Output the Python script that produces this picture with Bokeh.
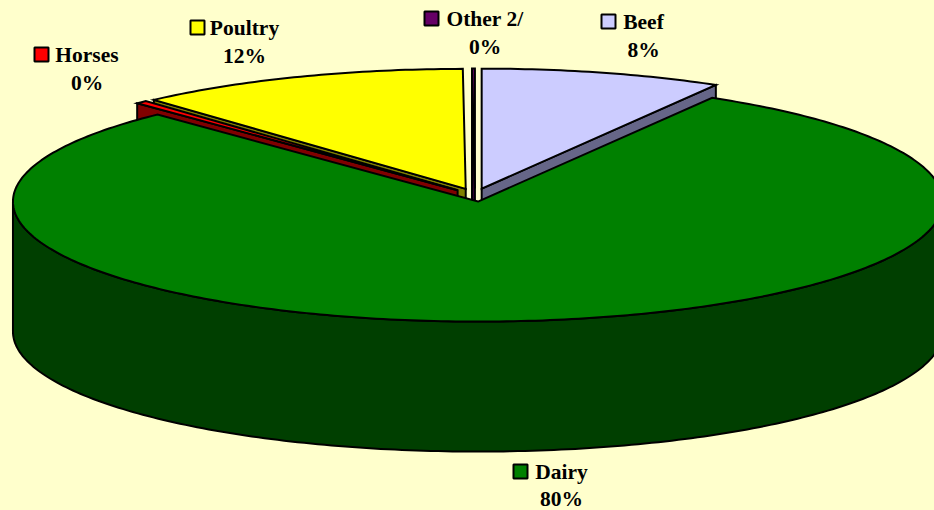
import numpy as np
from bokeh.plotting import figure
from bokeh.models import Range1d, ColumnDataSource
from bokeh.core.properties import value
from bokeh.embed import file_html
from bokeh.resources import INLINE

# ---- data ----
categories = ["Beef", "Dairy", "Horses", "Poultry", "Other 2/"]
shares = [8.4, 79.5, 0.4, 11.6, 0.1]
top_colors = ["#CCCCFF", "#008000", "#FF0000", "#FFFF00", "#660066"]
side_colors = ["#666688", "#003F00", "#800000", "#808000", "#330033"]

# ---- layout (screen-pixel coordinates) ----
CX, CY = 474.5, 194.5
RX, RY = 465.0, 120.0
DEPTH = 130.0
EXPLODE = 0.055
BG = "#FFFFCC"
W, H = 934, 510

# label layout: key-square centre, name-text centre x, row y, row gap
label_key_x = [608, 520, 41, 197, 431]
label_name_x = [643, 561, 86.5, 244, 484.5]
label_row_y = [21, 471, 54, 27, 18]
label_gap = [28, 27, 28, 28, 28]

total = float(sum(shares))
bounds = np.concatenate([[0.0], np.cumsum(shares)]) / total * 2 * np.pi


def pt(t, cx, cy, dz=0.0):
    return cx + RX * np.sin(t), cy - RY * np.cos(t) + dz


def arc(t0, t1, cx, cy, dz=0.0):
    n = max(2, int(abs(t1 - t0) / (2 * np.pi) * 400) + 2)
    ts = np.linspace(t0, t1, n)
    return list(cx + RX * np.sin(ts)), list(cy - RY * np.cos(ts) + dz)


polys_x, polys_y, fills = [], [], []

order = sorted(range(len(shares)),
               key=lambda i: -np.cos((bounds[i] + bounds[i + 1]) / 2))

for i in order:
    a0, a1 = bounds[i], bounds[i + 1]
    mid = (a0 + a1) / 2
    cx = CX + RX * np.sin(mid) * EXPLODE
    cy = CY - RY * np.cos(mid) * EXPLODE
    # radial walls
    for a, vis in ((a0, np.sin(a0) < 0), (a1, np.sin(a1) > 0)):
        if vis:
            ox, oy = pt(a, cx, cy)
            polys_x.append([cx, ox, ox, cx])
            polys_y.append([cy, oy, oy + DEPTH, cy + DEPTH])
            fills.append(side_colors[i])
    # outer curved wall (front half only)
    f0, f1 = max(a0, np.pi / 2), min(a1, 3 * np.pi / 2)
    if f1 > f0:
        tx, ty = arc(f0, f1, cx, cy)
        bx, by = arc(f1, f0, cx, cy, DEPTH)
        polys_x.append(tx + bx)
        polys_y.append(ty + by)
        fills.append(side_colors[i])
    # top face
    tx, ty = arc(a0, a1, cx, cy)
    polys_x.append([cx] + tx)
    polys_y.append([cy] + ty)
    fills.append(top_colors[i])

p = figure(width=W, height=H, x_range=Range1d(0, W), y_range=Range1d(H, 0),
           output_backend="svg", toolbar_location=None, min_border=0)
p.axis.visible = False
p.grid.visible = False
p.outline_line_color = None
p.background_fill_color = BG
p.border_fill_color = BG

src = ColumnDataSource(dict(xs=polys_x, ys=polys_y, fill=fills))
p.patches("xs", "ys", source=src, fill_color="fill", line_color="black",
          line_width=2, line_join="miter")

# labels
pct_text = [f"{int(s / total * 100 + 0.5)}%" for s in shares]
p.scatter(x=label_key_x, y=label_row_y, marker="square", size=14,
          fill_color=top_colors, line_color="black", line_width=2)
p.text(x=label_name_x, y=label_row_y, text=categories,
       text_font=value("Liberation Serif"), text_font_style="bold",
       text_font_size="21.5px", text_align="center", text_baseline="middle",
       text_color="black")
p.text(x=label_name_x, y=[y + g for y, g in zip(label_row_y, label_gap)], text=pct_text,
       text_font=value("Liberation Serif"), text_font_style="bold",
       text_font_size="21.5px", text_align="center", text_baseline="middle",
       text_color="black")

html = file_html(p, INLINE)
html = html.replace("</head>",
                    "<style>html,body{background:#FFFFCC;margin:0;padding:0;overflow:hidden;}</style></head>", 1)
open("out.html", "w").write(html)
